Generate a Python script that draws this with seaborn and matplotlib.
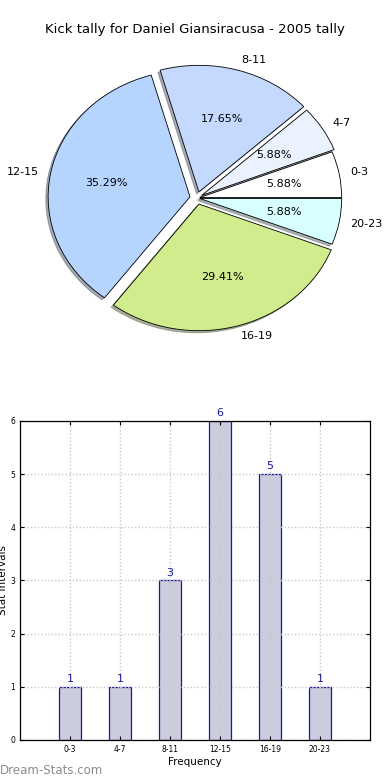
import matplotlib
matplotlib.use("Agg")
import matplotlib.pyplot as plt
import seaborn as sns
import pandas as pd

# kick tally per stat interval
intervals = ["0-3", "4-7", "8-11", "12-15", "16-19", "20-23"]
counts = [1, 1, 3, 6, 5, 1]
pie_colors = ["#ffffff", "#eaf2ff", "#c5d9ff", "#b5d5ff", "#d0ec8c", "#d8ffff"]
explode = [0.02, 0.04, 0.05, 0.05, 0.05, 0.02]

df = pd.DataFrame({"interval": intervals, "count": counts})

fig = plt.figure(figsize=(3.9, 7.8), dpi=100)

# pie (elliptical, as in the original)
ax1 = fig.add_axes([0.0256, 0.5295, 0.959, 0.4333])
ax1.pie(df["count"], labels=df["interval"], colors=pie_colors, explode=explode,
        autopct="%.2f%%", startangle=0, labeldistance=1.08,
        shadow={"ox": -0.012, "oy": -0.012, "shade": 0.6},
        wedgeprops={"edgecolor": "black", "linewidth": 0.6},
        textprops={"fontsize": 8})
ax1.set_aspect("auto")
ax1.set_xlim(-1.318, 1.318)
ax1.set_ylim(-1.335, 1.335)
fig.text(0.5, 1 - 30 / 780, "Kick tally for Daniel Giansiracusa - 2005 tally",
         ha="center", va="center", fontsize=9.5)

# bar chart
ax2 = fig.add_axes([0.0513, 0.0513, 0.897, 0.409])
sns.barplot(data=df, x="interval", y="count", ax=ax2, width=0.45,
            color="#ccccdf", saturation=1, edgecolor="#1a1a9a", linewidth=0.9)
for i, v in enumerate(df["count"]):
    ax2.text(i, v + 0.05, str(v), ha="center", va="bottom",
             color="#1a1a99", fontsize=8)
ax2.set_xlim(-1, 6)
ax2.set_ylim(0, 6)
ax2.set_axisbelow(False)
ax2.grid(True, linestyle=(0, (1, 1.5)), color="#c8c8c8", linewidth=1.0)
ax2.tick_params(direction="in", top=True, right=True, labelsize=5.5, length=3)
ax2.set_xlabel("Frequency", fontsize=7.5, labelpad=2)
ax2.set_ylabel("Stat Intervals", fontsize=7.5)
ax2.yaxis.set_label_coords(-0.034, 0.5)
for s in ax2.spines.values():
    s.set_linewidth(0.9)
    s.set_zorder(5)

fig.text(0.0, 1 - 770 / 780, "Dream-Stats.com", ha="left", va="center",
         fontsize=8.5, color="#8c8c8c")

fig.savefig("out.png", dpi=100)
